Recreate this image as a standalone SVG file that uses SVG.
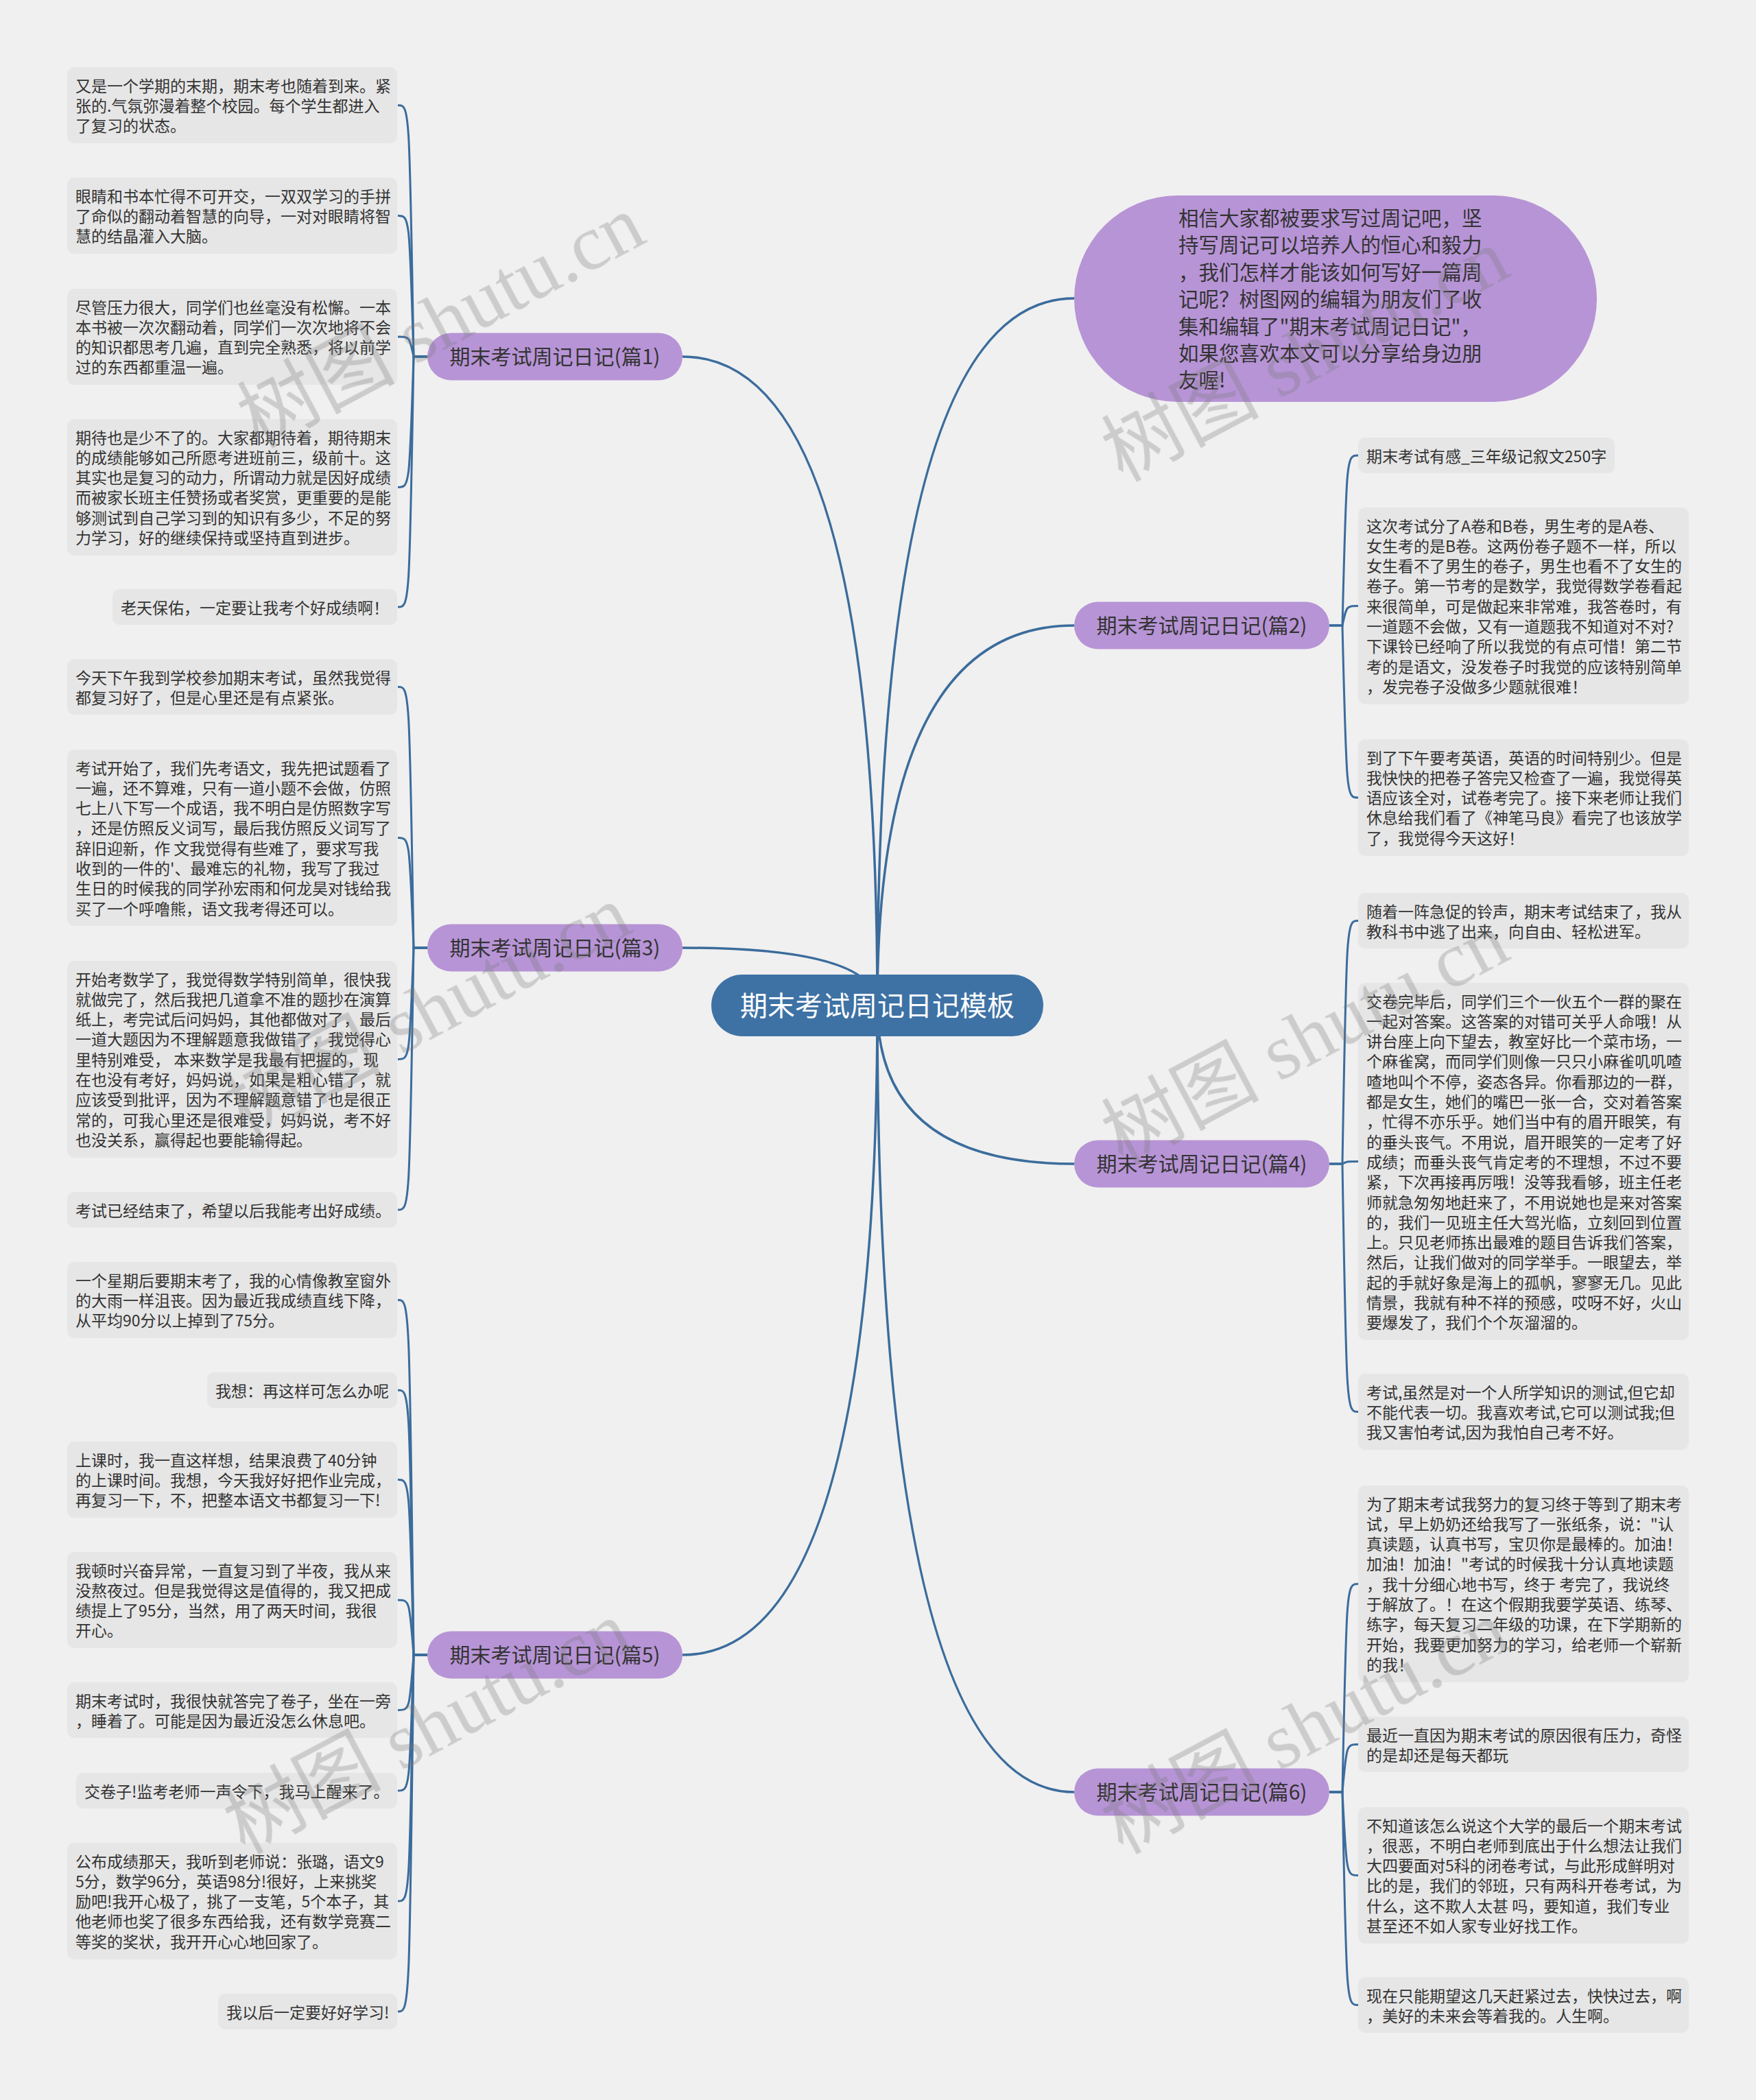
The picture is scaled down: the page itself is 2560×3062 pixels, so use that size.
<svg xmlns="http://www.w3.org/2000/svg" width="2560" height="3062" viewBox="0 0 2560 3062">
<style>
.bg{fill:#f0f0f0}
.leaf rect{fill:#e6e6e6}
.lt{font-family:"Noto Sans CJK SC","Noto Sans",sans-serif;font-size:23px;fill:#333}
.br rect{fill:#b794d6}
.bt{font-family:"Noto Sans CJK SC","Noto Sans",sans-serif;font-size:30px;fill:#333;text-anchor:middle}
.conn path{fill:none;stroke:#3b6c9c;stroke-width:3}
.conn path.m{stroke-width:3.5}
.wm{font-family:"Liberation Serif","Noto Sans CJK SC",serif;font-size:115px;fill:#7a7a7a;opacity:.3}
</style>
<rect class="bg" x="0" y="0" width="2560" height="3062"/>
<g class="conn" id="connectors">
<path class="m" d="M1279,1466 Q1279,520 995,520"/>
<path class="m" d="M1279,1466 Q1279,1382 995,1382"/>
<path class="m" d="M1279,1466 Q1279,2413 995,2413"/>
<path class="m" d="M1279,1466 Q1279,435 1566,435"/>
<path class="m" d="M1279,1466 Q1279,912 1566,912"/>
<path class="m" d="M1279,1466 Q1279,1697 1566,1697"/>
<path class="m" d="M1279,1466 Q1279,2613 1566,2613"/>
<path d="M623,520 H603 C597,153.5 597,153.5 580,153.5"/>
<path d="M623,520 H603 C597,314.5 597,314.5 580,314.5"/>
<path d="M623,520 H603 C597,491 597,491 580,491"/>
<path d="M623,520 H603 C597,710.5 597,710.5 580,710.5"/>
<path d="M623,520 H603 C597,885 597,885 580,885"/>
<path d="M623,1382 H603 C597,1001.5 597,1001.5 580,1001.5"/>
<path d="M623,1382 H603 C597,1221.5 597,1221.5 580,1221.5"/>
<path d="M623,1382 H603 C597,1544.5 597,1544.5 580,1544.5"/>
<path d="M623,1382 H603 C597,1764 597,1764 580,1764"/>
<path d="M623,2413 H603 C597,1895.5 597,1895.5 580,1895.5"/>
<path d="M623,2413 H603 C597,2027 597,2027 580,2027"/>
<path d="M623,2413 H603 C597,2157.5 597,2157.5 580,2157.5"/>
<path d="M623,2413 H603 C597,2333 597,2333 580,2333"/>
<path d="M623,2413 H603 C597,2493.5 597,2493.5 580,2493.5"/>
<path d="M623,2413 H603 C597,2611 597,2611 580,2611"/>
<path d="M623,2413 H603 C597,2772 597,2772 580,2772"/>
<path d="M623,2413 H603 C597,2933 597,2933 580,2933"/>
<path d="M1938,912 H1957 C1963,664 1963,664 1980,664"/>
<path d="M1938,912 H1957 C1963,883.5 1963,883.5 1980,883.5"/>
<path d="M1938,912 H1957 C1963,1163 1963,1163 1980,1163"/>
<path d="M1938,1697 H1957 C1963,1342.5 1963,1342.5 1980,1342.5"/>
<path d="M1938,1697 H1957 C1963,1693.5 1963,1693.5 1980,1693.5"/>
<path d="M1938,1697 H1957 C1963,2058.5 1963,2058.5 1980,2058.5"/>
<path d="M1938,2613 H1957 C1963,2309.5 1963,2309.5 1980,2309.5"/>
<path d="M1938,2613 H1957 C1963,2543.5 1963,2543.5 1980,2543.5"/>
<path d="M1938,2613 H1957 C1963,2734.5 1963,2734.5 1980,2734.5"/>
<path d="M1938,2613 H1957 C1963,2923.5 1963,2923.5 1980,2923.5"/>
</g>

<g id="root">
<rect x="1037" y="1421" width="484" height="90" rx="45" fill="#3e72a5"/>
<text x="1279" y="1481" style="font-family:'Noto Sans CJK SC','Noto Sans',sans-serif;font-size:40px;fill:#fff;text-anchor:middle">期末考试周记日记模板</text>
</g>

<g id="intro">
<rect x="1566" y="285" width="762" height="301" rx="150.5" fill="#b794d6"/>
<text style="font-family:'Noto Sans CJK SC','Noto Sans',sans-serif;font-size:29.5px;fill:#333">
<tspan x="1718" y="329">相信大家都被要求写过周记吧，坚</tspan>
<tspan x="1718" y="368.4">持写周记可以培养人的恒心和毅力</tspan>
<tspan x="1718" y="407.8">，我们怎样才能该如何写好一篇周</tspan>
<tspan x="1718" y="447.2">记呢？树图网的编辑为朋友们了收</tspan>
<tspan x="1718" y="486.6">集和编辑了"期末考试周记日记"，</tspan>
<tspan x="1718" y="526">如果您喜欢本文可以分享给身边朋</tspan>
<tspan x="1718" y="565.4">友喔!</tspan>
</text>
</g>

<g id="b1" class="br"><rect x="623" y="485.5" width="372" height="69" rx="34.5"/><text class="bt" x="809" y="531">期末考试周记日记(篇1)</text></g>
<g id="b3" class="br"><rect x="623" y="1347.5" width="372" height="69" rx="34.5"/><text class="bt" x="809" y="1393">期末考试周记日记(篇3)</text></g>
<g id="b5" class="br"><rect x="623" y="2378.5" width="372" height="69" rx="34.5"/><text class="bt" x="809" y="2424">期末考试周记日记(篇5)</text></g>
<g id="b2" class="br"><rect x="1566" y="877.5" width="372" height="69" rx="34.5"/><text class="bt" x="1752" y="923">期末考试周记日记(篇2)</text></g>
<g id="b4" class="br"><rect x="1566" y="1662.5" width="372" height="69" rx="34.5"/><text class="bt" x="1752" y="1708">期末考试周记日记(篇4)</text></g>
<g id="b6" class="br"><rect x="1566" y="2578.5" width="372" height="69" rx="34.5"/><text class="bt" x="1752" y="2624">期末考试周记日记(篇6)</text></g>

<g id="l1a" class="leaf"><rect x="98" y="98" width="481" height="111" rx="10"/><text class="lt"><tspan x="110" y="133.5">又是一个学期的末期，期末考也随着到来。紧</tspan><tspan x="110" y="162.8">张的.气氛弥漫着整个校园。每个学生都进入</tspan><tspan x="110" y="192.1">了复习的状态。</tspan></text></g>
<g id="l1b" class="leaf"><rect x="98" y="259" width="481" height="111" rx="10"/><text class="lt"><tspan x="110" y="294.5">眼睛和书本忙得不可开交，一双双学习的手拼</tspan><tspan x="110" y="323.8">了命似的翻动着智慧的向导，一对对眼睛将智</tspan><tspan x="110" y="353.1">慧的结晶灌入大脑。</tspan></text></g>
<g id="l1c" class="leaf"><rect x="98" y="421" width="481" height="140" rx="10"/><text class="lt"><tspan x="110" y="456.5">尽管压力很大，同学们也丝毫没有松懈。一本</tspan><tspan x="110" y="485.8">本书被一次次翻动着，同学们一次次地将不会</tspan><tspan x="110" y="515.1">的知识都思考几遍，直到完全熟悉，将以前学</tspan><tspan x="110" y="544.4">过的东西都重温一遍。</tspan></text></g>
<g id="l1d" class="leaf"><rect x="98" y="611" width="481" height="199" rx="10"/><text class="lt"><tspan x="110" y="646.5">期待也是少不了的。大家都期待着，期待期末</tspan><tspan x="110" y="675.8">的成绩能够如己所愿考进班前三，级前十。这</tspan><tspan x="110" y="705.1">其实也是复习的动力，所谓动力就是因好成绩</tspan><tspan x="110" y="734.4">而被家长班主任赞扬或者奖赏，更重要的是能</tspan><tspan x="110" y="763.7">够测试到自己学习到的知识有多少，不足的努</tspan><tspan x="110" y="793">力学习，好的继续保持或坚持直到进步。</tspan></text></g>
<g id="l1e" class="leaf"><rect x="164" y="859" width="415" height="52" rx="10"/><text class="lt"><tspan x="176" y="894.5">老天保佑，一定要让我考个好成绩啊！</tspan></text></g>

<g id="l3a" class="leaf"><rect x="98" y="961" width="481" height="81" rx="10"/><text class="lt"><tspan x="110" y="996.5">今天下午我到学校参加期末考试，虽然我觉得</tspan><tspan x="110" y="1025.8">都复习好了，但是心里还是有点紧张。</tspan></text></g>
<g id="l3b" class="leaf"><rect x="98" y="1093" width="481" height="257" rx="10"/><text class="lt"><tspan x="110" y="1128.5">考试开始了，我们先考语文，我先把试题看了</tspan><tspan x="110" y="1157.8">一遍，还不算难，只有一道小题不会做，仿照</tspan><tspan x="110" y="1187.1">七上八下写一个成语，我不明白是仿照数字写</tspan><tspan x="110" y="1216.4">，还是仿照反义词写，最后我仿照反义词写了</tspan><tspan x="110" y="1245.7">辞旧迎新，作 文我觉得有些难了，要求写我</tspan><tspan x="110" y="1275">收到的一件的'、最难忘的礼物，我写了我过</tspan><tspan x="110" y="1304.3">生日的时候我的同学孙宏雨和何龙昊对钱给我</tspan><tspan x="110" y="1333.6">买了一个呼噜熊，语文我考得还可以。</tspan></text></g>
<g id="l3c" class="leaf"><rect x="98" y="1401" width="481" height="287" rx="10"/><text class="lt"><tspan x="110" y="1436.5">开始考数学了，我觉得数学特别简单，很快我</tspan><tspan x="110" y="1465.8">就做完了，然后我把几道拿不准的题抄在演算</tspan><tspan x="110" y="1495.1">纸上，考完试后问妈妈，其他都做对了，最后</tspan><tspan x="110" y="1524.4">一道大题因为不理解题意我做错了，我觉得心</tspan><tspan x="110" y="1553.7">里特别难受， 本来数学是我最有把握的，现</tspan><tspan x="110" y="1583">在也没有考好，妈妈说，如果是粗心错了，就</tspan><tspan x="110" y="1612.3">应该受到批评，因为不理解题意错了也是很正</tspan><tspan x="110" y="1641.6">常的，可我心里还是很难受，妈妈说，考不好</tspan><tspan x="110" y="1670.9">也没关系，赢得起也要能输得起。</tspan></text></g>
<g id="l3d" class="leaf"><rect x="98" y="1738" width="481" height="52" rx="10"/><text class="lt"><tspan x="110" y="1773.5">考试已经结束了，希望以后我能考出好成绩。</tspan></text></g>

<g id="l5a" class="leaf"><rect x="98" y="1840" width="481" height="111" rx="10"/><text class="lt"><tspan x="110" y="1875.5">一个星期后要期末考了，我的心情像教室窗外</tspan><tspan x="110" y="1904.8">的大雨一样沮丧。因为最近我成绩直线下降，</tspan><tspan x="110" y="1934.1">从平均90分以上掉到了75分。</tspan></text></g>
<g id="l5b" class="leaf"><rect x="302" y="2001" width="277" height="52" rx="10"/><text class="lt"><tspan x="314" y="2036.5">我想：再这样可怎么办呢</tspan></text></g>
<g id="l5c" class="leaf"><rect x="98" y="2102" width="481" height="111" rx="10"/><text class="lt"><tspan x="110" y="2137.5">上课时，我一直这样想，结果浪费了40分钟</tspan><tspan x="110" y="2166.8">的上课时间。我想，今天我好好把作业完成，</tspan><tspan x="110" y="2196.1">再复习一下，不，把整本语文书都复习一下!</tspan></text></g>
<g id="l5d" class="leaf"><rect x="98" y="2263" width="481" height="140" rx="10"/><text class="lt"><tspan x="110" y="2298.5">我顿时兴奋异常，一直复习到了半夜，我从来</tspan><tspan x="110" y="2327.8">没熬夜过。但是我觉得这是值得的，我又把成</tspan><tspan x="110" y="2357.1">绩提上了95分，当然，用了两天时间，我很</tspan><tspan x="110" y="2386.4">开心。</tspan></text></g>
<g id="l5e" class="leaf"><rect x="98" y="2453" width="481" height="81" rx="10"/><text class="lt"><tspan x="110" y="2488.5">期末考试时，我很快就答完了卷子，坐在一旁</tspan><tspan x="110" y="2517.8">，睡着了。可能是因为最近没怎么休息吧。</tspan></text></g>
<g id="l5f" class="leaf"><rect x="111" y="2585" width="468" height="52" rx="10"/><text class="lt"><tspan x="123" y="2620.5">交卷子!监考老师一声令下，我马上醒来了。</tspan></text></g>
<g id="l5g" class="leaf"><rect x="98" y="2687" width="481" height="170" rx="10"/><text class="lt"><tspan x="110" y="2722.5">公布成绩那天，我听到老师说：张璐，语文9</tspan><tspan x="110" y="2751.8">5分，数学96分，英语98分!很好，上来挑奖</tspan><tspan x="110" y="2781.1">励吧!我开心极了，挑了一支笔，5个本子，其</tspan><tspan x="110" y="2810.4">他老师也奖了很多东西给我，还有数学竞赛二</tspan><tspan x="110" y="2839.7">等奖的奖状，我开开心心地回家了。</tspan></text></g>
<g id="l5h" class="leaf"><rect x="318" y="2907" width="261" height="52" rx="10"/><text class="lt"><tspan x="330" y="2942.5">我以后一定要好好学习!</tspan></text></g>

<g id="r2a" class="leaf"><rect x="1980" y="638" width="374" height="52" rx="10"/><text class="lt"><tspan x="1992" y="673.5">期末考试有感_三年级记叙文250字</tspan></text></g>
<g id="r2b" class="leaf"><rect x="1980" y="740" width="482" height="287" rx="10"/><text class="lt"><tspan x="1992" y="775.5">这次考试分了A卷和B卷，男生考的是A卷、</tspan><tspan x="1992" y="804.8">女生考的是B卷。这两份卷子题不一样，所以</tspan><tspan x="1992" y="834.1">女生看不了男生的卷子，男生也看不了女生的</tspan><tspan x="1992" y="863.4">卷子。第一节考的是数学，我觉得数学卷看起</tspan><tspan x="1992" y="892.7">来很简单，可是做起来非常难，我答卷时，有</tspan><tspan x="1992" y="922">一道题不会做，又有一道题我不知道对不对?</tspan><tspan x="1992" y="951.3">下课铃已经响了所以我觉的有点可惜！第二节</tspan><tspan x="1992" y="980.6">考的是语文，没发卷子时我觉的应该特别简单</tspan><tspan x="1992" y="1009.9">，发完卷子没做多少题就很难！</tspan></text></g>
<g id="r2c" class="leaf"><rect x="1980" y="1078" width="482" height="170" rx="10"/><text class="lt"><tspan x="1992" y="1113.5">到了下午要考英语，英语的时间特别少。但是</tspan><tspan x="1992" y="1142.8">我快快的把卷子答完又检查了一遍，我觉得英</tspan><tspan x="1992" y="1172.1">语应该全对，试卷考完了。接下来老师让我们</tspan><tspan x="1992" y="1201.4">休息给我们看了《神笔马良》看完了也该放学</tspan><tspan x="1992" y="1230.7">了，我觉得今天这好！</tspan></text></g>

<g id="r4a" class="leaf"><rect x="1980" y="1302" width="482" height="81" rx="10"/><text class="lt"><tspan x="1992" y="1337.5">随着一阵急促的铃声，期末考试结束了，我从</tspan><tspan x="1992" y="1366.8">教科书中逃了出来，向自由、轻松进军。</tspan></text></g>
<g id="r4b" class="leaf"><rect x="1980" y="1433" width="482" height="521" rx="10"/><text class="lt"><tspan x="1992" y="1468.5">交卷完毕后，同学们三个一伙五个一群的聚在</tspan><tspan x="1992" y="1497.8">一起对答案。这答案的对错可关乎人命哦！从</tspan><tspan x="1992" y="1527.1">讲台座上向下望去，教室好比一个菜市场，一</tspan><tspan x="1992" y="1556.4">个麻雀窝，而同学们则像一只只小麻雀叽叽喳</tspan><tspan x="1992" y="1585.7">喳地叫个不停，姿态各异。你看那边的一群，</tspan><tspan x="1992" y="1615">都是女生，她们的嘴巴一张一合，交对着答案</tspan><tspan x="1992" y="1644.3">，忙得不亦乐乎。她们当中有的眉开眼笑，有</tspan><tspan x="1992" y="1673.6">的垂头丧气。不用说，眉开眼笑的一定考了好</tspan><tspan x="1992" y="1702.9">成绩；而垂头丧气肯定考的不理想，不过不要</tspan><tspan x="1992" y="1732.2">紧，下次再接再厉哦！没等我看够，班主任老</tspan><tspan x="1992" y="1761.5">师就急匆匆地赶来了，不用说她也是来对答案</tspan><tspan x="1992" y="1790.8">的，我们一见班主任大驾光临，立刻回到位置</tspan><tspan x="1992" y="1820.1">上。只见老师拣出最难的题目告诉我们答案，</tspan><tspan x="1992" y="1849.4">然后，让我们做对的同学举手。一眼望去，举</tspan><tspan x="1992" y="1878.7">起的手就好象是海上的孤帆，寥寥无几。见此</tspan><tspan x="1992" y="1908">情景，我就有种不祥的预感，哎呀不好，火山</tspan><tspan x="1992" y="1937.3">要爆发了，我们个个灰溜溜的。</tspan></text></g>
<g id="r4c" class="leaf"><rect x="1980" y="2003" width="482" height="111" rx="10"/><text class="lt"><tspan x="1992" y="2038.5">考试,虽然是对一个人所学知识的测试,但它却</tspan><tspan x="1992" y="2067.8">不能代表一切。我喜欢考试,它可以测试我;但</tspan><tspan x="1992" y="2097.1">我又害怕考试,因为我怕自己考不好。</tspan></text></g>

<g id="r6a" class="leaf"><rect x="1980" y="2166" width="482" height="287" rx="10"/><text class="lt"><tspan x="1992" y="2201.5">为了期末考试我努力的复习终于等到了期末考</tspan><tspan x="1992" y="2230.8">试，早上奶奶还给我写了一张纸条，说："认</tspan><tspan x="1992" y="2260.1">真读题，认真书写，宝贝你是最棒的。加油！</tspan><tspan x="1992" y="2289.4">加油！加油！"考试的时候我十分认真地读题</tspan><tspan x="1992" y="2318.7">，我十分细心地书写，终于 考完了，我说终</tspan><tspan x="1992" y="2348">于解放了。！在这个假期我要学英语、练琴、</tspan><tspan x="1992" y="2377.3">练字，每天复习二年级的功课，在下学期新的</tspan><tspan x="1992" y="2406.6">开始，我要更加努力的学习，给老师一个崭新</tspan><tspan x="1992" y="2435.9">的我！</tspan></text></g>
<g id="r6b" class="leaf"><rect x="1980" y="2503" width="482" height="81" rx="10"/><text class="lt"><tspan x="1992" y="2538.5">最近一直因为期末考试的原因很有压力，奇怪</tspan><tspan x="1992" y="2567.8">的是却还是每天都玩</tspan></text></g>
<g id="r6c" class="leaf"><rect x="1980" y="2635" width="482" height="199" rx="10"/><text class="lt"><tspan x="1992" y="2670.5">不知道该怎么说这个大学的最后一个期末考试</tspan><tspan x="1992" y="2699.8">，很恶，不明白老师到底出于什么想法让我们</tspan><tspan x="1992" y="2729.1">大四要面对5科的闭卷考试，与此形成鲜明对</tspan><tspan x="1992" y="2758.4">比的是，我们的邻班，只有两科开卷考试，为</tspan><tspan x="1992" y="2787.7">什么，这不欺人太甚 吗，要知道，我们专业</tspan><tspan x="1992" y="2817">甚至还不如人家专业好找工作。</tspan></text></g>
<g id="r6d" class="leaf"><rect x="1980" y="2883" width="482" height="81" rx="10"/><text class="lt"><tspan x="1992" y="2918.5">现在只能期望这几天赶紧过去，快快过去，啊</tspan><tspan x="1992" y="2947.8">，美好的未来会等着我的。人生啊。</tspan></text></g>

<g id="watermarks" class="wm">
<text transform="translate(376,654) rotate(-28)">树图 shutu.cn</text>
<text transform="translate(356,1660) rotate(-28)">树图 shutu.cn</text>
<text transform="translate(356,2704) rotate(-28)">树图 shutu.cn</text>
<text transform="translate(1636,703) rotate(-28)">树图 shutu.cn</text>
<text transform="translate(1636,1699) rotate(-28)">树图 shutu.cn</text>
<text transform="translate(1636,2704) rotate(-28)">树图 shutu.cn</text>
</g>
</svg>
